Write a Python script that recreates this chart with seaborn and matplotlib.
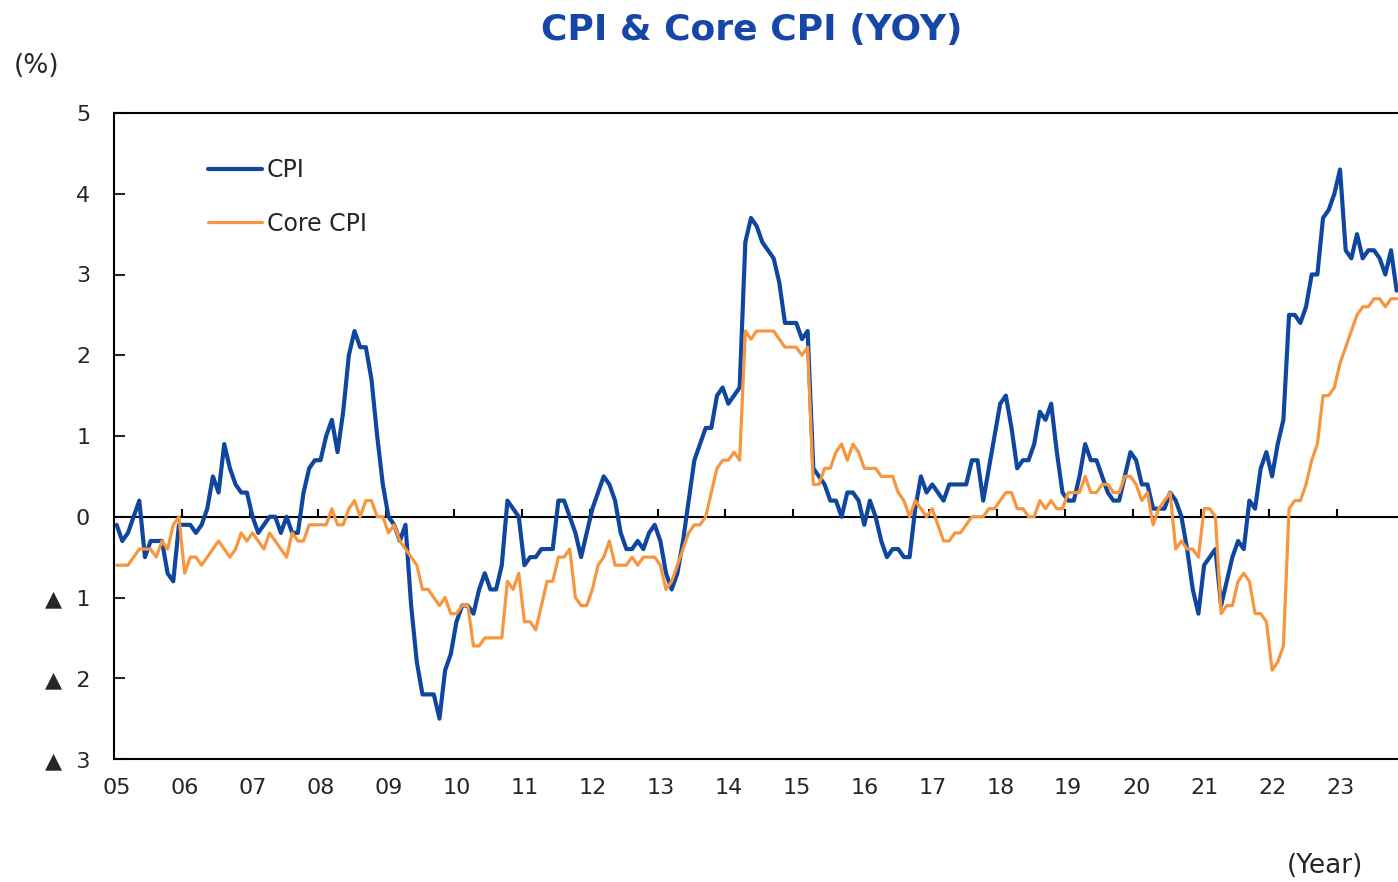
import numpy as np
import pandas as pd
import seaborn as sns
import matplotlib
matplotlib.use("Agg")
import matplotlib.pyplot as plt

BLUE = "#0F47A0"
ORANGE = "#F7963F"
TEXT = "#262626"

YEAR_LABELS = ["05", "06", "07", "08", "09", "10", "11", "12", "13", "14",
               "15", "16", "17", "18", "19", "20", "21", "22", "23"]

# monthly YoY %, Jan 2005 .. Nov 2023 (one row per year)
CPI = [
    -0.1, -0.3, -0.2, 0.0, 0.2, -0.5, -0.3, -0.3, -0.3, -0.7, -0.8, -0.1,
    -0.1, -0.1, -0.2, -0.1, 0.1, 0.5, 0.3, 0.9, 0.6, 0.4, 0.3, 0.3,
    0.0, -0.2, -0.1, 0.0, 0.0, -0.2, 0.0, -0.2, -0.2, 0.3, 0.6, 0.7,
    0.7, 1.0, 1.2, 0.8, 1.3, 2.0, 2.3, 2.1, 2.1, 1.7, 1.0, 0.4,
    0.0, -0.1, -0.3, -0.1, -1.1, -1.8, -2.2, -2.2, -2.2, -2.5, -1.9, -1.7,
    -1.3, -1.1, -1.1, -1.2, -0.9, -0.7, -0.9, -0.9, -0.6, 0.2, 0.1, 0.0,
    -0.6, -0.5, -0.5, -0.4, -0.4, -0.4, 0.2, 0.2, 0.0, -0.2, -0.5, -0.2,
    0.1, 0.3, 0.5, 0.4, 0.2, -0.2, -0.4, -0.4, -0.3, -0.4, -0.2, -0.1,
    -0.3, -0.7, -0.9, -0.7, -0.3, 0.2, 0.7, 0.9, 1.1, 1.1, 1.5, 1.6,
    1.4, 1.5, 1.6, 3.4, 3.7, 3.6, 3.4, 3.3, 3.2, 2.9, 2.4, 2.4,
    2.4, 2.2, 2.3, 0.6, 0.5, 0.4, 0.2, 0.2, 0.0, 0.3, 0.3, 0.2,
    -0.1, 0.2, 0.0, -0.3, -0.5, -0.4, -0.4, -0.5, -0.5, 0.1, 0.5, 0.3,
    0.4, 0.3, 0.2, 0.4, 0.4, 0.4, 0.4, 0.7, 0.7, 0.2, 0.6, 1.0,
    1.4, 1.5, 1.1, 0.6, 0.7, 0.7, 0.9, 1.3, 1.2, 1.4, 0.8, 0.3,
    0.2, 0.2, 0.5, 0.9, 0.7, 0.7, 0.5, 0.3, 0.2, 0.2, 0.5, 0.8,
    0.7, 0.4, 0.4, 0.1, 0.1, 0.1, 0.3, 0.2, 0.0, -0.4, -0.9, -1.2,
    -0.6, -0.5, -0.4, -1.1, -0.8, -0.5, -0.3, -0.4, 0.2, 0.1, 0.6, 0.8,
    0.5, 0.9, 1.2, 2.5, 2.5, 2.4, 2.6, 3.0, 3.0, 3.7, 3.8, 4.0,
    4.3, 3.3, 3.2, 3.5, 3.2, 3.3, 3.3, 3.2, 3.0, 3.3, 2.8,
]

CORE_CPI = [
    -0.6, -0.6, -0.6, -0.5, -0.4, -0.4, -0.4, -0.5, -0.3, -0.4, -0.1, 0.0,
    -0.7, -0.5, -0.5, -0.6, -0.5, -0.4, -0.3, -0.4, -0.5, -0.4, -0.2, -0.3,
    -0.2, -0.3, -0.4, -0.2, -0.3, -0.4, -0.5, -0.2, -0.3, -0.3, -0.1, -0.1,
    -0.1, -0.1, 0.1, -0.1, -0.1, 0.1, 0.2, 0.0, 0.2, 0.2, 0.0, 0.0,
    -0.2, -0.1, -0.3, -0.4, -0.5, -0.6, -0.9, -0.9, -1.0, -1.1, -1.0, -1.2,
    -1.2, -1.1, -1.1, -1.6, -1.6, -1.5, -1.5, -1.5, -1.5, -0.8, -0.9, -0.7,
    -1.3, -1.3, -1.4, -1.1, -0.8, -0.8, -0.5, -0.5, -0.4, -1.0, -1.1, -1.1,
    -0.9, -0.6, -0.5, -0.3, -0.6, -0.6, -0.6, -0.5, -0.6, -0.5, -0.5, -0.5,
    -0.6, -0.9, -0.8, -0.6, -0.4, -0.2, -0.1, -0.1, 0.0, 0.3, 0.6, 0.7,
    0.7, 0.8, 0.7, 2.3, 2.2, 2.3, 2.3, 2.3, 2.3, 2.2, 2.1, 2.1,
    2.1, 2.0, 2.1, 0.4, 0.4, 0.6, 0.6, 0.8, 0.9, 0.7, 0.9, 0.8,
    0.6, 0.6, 0.6, 0.5, 0.5, 0.5, 0.3, 0.2, 0.0, 0.2, 0.1, 0.0,
    0.1, -0.1, -0.3, -0.3, -0.2, -0.2, -0.1, 0.0, 0.0, 0.0, 0.1, 0.1,
    0.2, 0.3, 0.3, 0.1, 0.1, 0.0, 0.0, 0.2, 0.1, 0.2, 0.1, 0.1,
    0.3, 0.3, 0.3, 0.5, 0.3, 0.3, 0.4, 0.4, 0.3, 0.3, 0.5, 0.5,
    0.4, 0.2, 0.3, -0.1, 0.1, 0.2, 0.3, -0.4, -0.3, -0.4, -0.4, -0.5,
    0.1, 0.1, 0.0, -1.2, -1.1, -1.1, -0.8, -0.7, -0.8, -1.2, -1.2, -1.3,
    -1.9, -1.8, -1.6, 0.1, 0.2, 0.2, 0.4, 0.7, 0.9, 1.5, 1.5, 1.6,
    1.9, 2.1, 2.3, 2.5, 2.6, 2.6, 2.7, 2.7, 2.6, 2.7, 2.7,
]

Y_TICKS = [-3, -2, -1, 0, 1, 2, 3, 4, 5]
Y_LABELS = ["\u25b2  3", "\u25b2  2", "\u25b2  1", "0", "1", "2", "3", "4", "5"]

n = len(CPI)
df = pd.DataFrame({"month": np.arange(n), "CPI": CPI, "Core CPI": CORE_CPI})

sns.set_style("white")
plt.rcParams["font.family"] = ["DejaVu Sans"]

W, H = 1398, 882
fig = plt.figure(figsize=(W / 100, H / 100), dpi=100)
ax = fig.add_axes([113.8 / W, 123 / H, (1399.5 - 113.8) / W, (759 - 113) / H])

sns.lineplot(data=df, x="month", y="CPI", color=BLUE, lw=3.0, label="CPI", ax=ax)
sns.lineplot(data=df, x="month", y="Core CPI", color=ORANGE, lw=2.3, label="Core CPI", ax=ax)

ax.set_xlim(-0.5, n - 0.5)
ax.set_ylim(-3, 5)

# zero line with small year marks
ax.axhline(0, color="black", lw=1.5, zorder=1)
ax.vlines(np.arange(12, n, 12) - 0.5, 0, 0.09, color="black", lw=1.5, zorder=1)

ax.set_xticks(np.arange(0, n, 12))
ax.set_xticklabels(YEAR_LABELS)
ax.set_yticks(Y_TICKS)
ax.set_yticklabels(Y_LABELS)
ax.tick_params(axis="x", length=0, pad=14, labelsize=16, labelcolor=TEXT)
ax.tick_params(axis="y", direction="in", length=8, width=1.5, pad=17,
               labelsize=16, labelcolor=TEXT, left=True)
ax.set_xlabel("")
ax.set_ylabel("")

for side in ["left", "bottom", "top"]:
    ax.spines[side].set_color("black")
    ax.spines[side].set_linewidth(1.5)
ax.spines["right"].set_visible(False)

ax.legend(loc="upper left", bbox_to_anchor=(208 / W, 1 - 158 / H),
          bbox_transform=fig.transFigure, frameon=False, fontsize=17,
          handlelength=2.3, handletextpad=0.2, labelspacing=1.25,
          borderpad=0, borderaxespad=0, labelcolor=TEXT)

fig.text(752 / W, 1 - 30 / H, "CPI & Core CPI (YOY)", ha="center", va="center",
         fontsize=26, fontweight="bold", color="#1747A6")
fig.text(37 / W, 1 - 66 / H, "(%)", ha="center", va="center", fontsize=19, color=TEXT)
fig.text(1325 / W, 1 - 866 / H, "(Year)", ha="center", va="center", fontsize=19, color=TEXT)

fig.savefig("out.png", dpi=100)
